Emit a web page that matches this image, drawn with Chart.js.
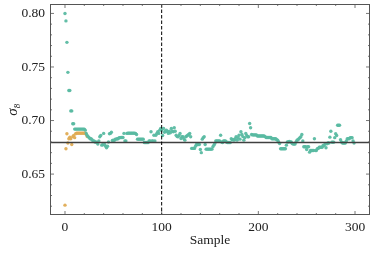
<!DOCTYPE html>
<html>
<head>
<meta charset="utf-8">
<script src="https://cdn.jsdelivr.net/npm/chart.js@4/dist/chart.umd.min.js"></script>
<style>
html,body{margin:0;padding:0;background:#fff;}
#wrap{width:374px;height:253px;}
</style>
</head>
<body>
<div id="wrap"><canvas id="c" width="374" height="253"></canvas></div>
<script>
// ---- data ----
const chainSigma8 = [
0.800,0.793,0.773,0.745,0.728,0.728,0.709,0.709,0.697,0.697,
0.692,0.692,0.692,0.692,0.692,0.692,0.692,0.692,0.692,0.692,
0.692,0.691,0.688,0.686,0.685,0.684,0.683,0.683,0.682,0.681,
0.681,0.680,0.680,0.6795,0.678,0.681,0.6848,0.686,0.677,0.6774,
0.688,0.6776,0.676,0.6746,0.676,0.680,0.6876,0.688,0.689,0.6814,
0.6817,0.6814,0.6826,0.6826,0.683,0.683,0.684,0.684,0.6842,0.6842,
0.6842,0.688,0.681,0.681,0.688,0.6882,0.6882,0.6882,0.6882,0.6882,
0.6882,0.6882,0.6882,0.688,0.687,0.6826,0.6826,0.6826,0.6826,0.6826,
0.6826,0.6826,0.6795,0.6795,0.6795,0.6795,0.6795,0.681,0.681,0.6895,
0.681,0.681,0.6863,0.681,0.6863,0.688,0.6895,0.688,0.691,0.6925,
0.691,0.686,0.6925,0.689,0.690,0.691,0.6895,0.688,0.690,0.6885,
0.6925,0.690,0.6895,0.6932,0.690,0.6863,0.685,0.6848,0.686,0.688,
0.6832,0.6848,0.6848,0.683,0.6817,0.6848,0.6855,0.6863,0.687,0.688,
0.6848,0.674,0.674,0.674,0.674,0.676,0.6776,0.6776,0.6776,0.6776,
0.673,0.670,0.6826,0.684,0.6848,0.6776,0.6733,0.6733,0.6733,0.6733,
0.6733,0.6733,0.6733,0.6755,0.677,0.6786,0.681,0.681,0.681,0.681,
0.681,0.6863,0.680,0.6795,0.681,0.681,0.681,0.680,0.6795,0.6795,
0.6795,0.6795,0.683,0.682,0.682,0.6817,0.683,0.6848,0.6817,0.684,
0.6863,0.6826,0.6895,0.687,0.685,0.6817,0.684,0.688,0.686,0.6848,
0.6848,0.6972,0.6932,0.687,0.6866,0.6866,0.6866,0.6866,0.6866,0.6856,
0.6856,0.6856,0.6856,0.6856,0.6856,0.6856,0.6856,0.685,0.6842,0.6842,
0.6842,0.6842,0.6842,0.6842,0.683,0.683,0.683,0.683,0.683,0.682,
0.6817,0.680,0.6786,0.6736,0.6736,0.6736,0.6736,0.6736,0.6736,0.677,
0.680,0.680,0.6805,0.680,0.680,0.6786,0.678,0.678,0.678,0.680,
0.6817,0.682,0.683,0.684,0.6848,0.687,0.681,0.6755,0.6755,0.6755,
0.673,0.6755,0.6755,0.6705,0.672,0.672,0.672,0.672,0.683,0.672,
0.672,0.6737,0.674,0.675,0.675,0.675,0.675,0.6767,0.6767,0.678,
0.6746,0.6783,0.679,0.679,0.6845,0.690,0.6798,0.6798,0.6798,0.684,
0.6876,0.686,0.6956,0.6956,0.6956,0.682,0.680,0.679,0.679,0.679,
0.679,0.681,0.683,0.683,0.683,0.684,0.684,0.684,0.681,0.679
];
const initialSigma8 = [
0.621,0.6736,0.6876,0.679,0.683,0.6845,0.683,0.6776,0.685,0.686,
0.684,0.6876,0.6882,0.6882,0.6882,0.6882,0.6882,0.6882,0.6882,0.6882,
0.6882,0.6882,0.687,0.685
];
const referenceSigma8 = 0.6795;
const splitSample = 100;
const xTickValues = [0, 100, 200, 300];
const yTickValues = [0.65, 0.70, 0.75, 0.80];
const xTickLabels = ['0', '100', '200', '300'];
const yTickLabels = ['0.65', '0.70', '0.75', '0.80'];
const xLabel = 'Sample';
const yLabel = 'σ₈';

const chainPoints = chainSigma8.map((v, i) => ({x: i, y: v}));
const initialPoints = initialSigma8.map((v, i) => ({x: i, y: v}));

const FONT = "'Liberation Serif', 'DejaVu Serif', serif";

const framePlugin = {
  id: 'frame',
  afterDatasetsDraw(chart) {
    const ctx = chart.ctx, a = chart.chartArea;
    const xs = chart.scales.x, ys = chart.scales.y;
    ctx.save();
    const yr = ys.getPixelForValue(referenceSigma8);
    ctx.strokeStyle = '#404040';
    ctx.lineWidth = 1.4;
    ctx.beginPath(); ctx.moveTo(a.left, yr); ctx.lineTo(a.right, yr); ctx.stroke();
    const xv = xs.getPixelForValue(splitSample);
    ctx.strokeStyle = '#000';
    ctx.lineWidth = 1;
    ctx.setLineDash([3.5, 2]);
    ctx.beginPath(); ctx.moveTo(xv, a.top); ctx.lineTo(xv, a.bottom); ctx.stroke();
    ctx.setLineDash([]);
    ctx.strokeStyle = '#555';
    ctx.lineWidth = 1;
    ctx.strokeRect(a.left + 0.5, a.top + 0.5, a.right - a.left - 1, a.bottom - a.top - 1);
    ctx.lineWidth = 0.8;
    ctx.strokeStyle = '#555';
    const tick = (x1, y1, x2, y2) => { ctx.beginPath(); ctx.moveTo(x1, y1); ctx.lineTo(x2, y2); ctx.stroke(); };
    for (let v = -20; v <= 320; v += 20) {
      if (v < xs.min || v > xs.max) continue;
      const px = xs.getPixelForValue(v);
      const len = (v % 100 === 0) ? 4 : 2;
      tick(px, a.bottom, px, a.bottom - len);
      tick(px, a.top, px, a.top + len);
    }
    for (let k = 60; k <= 81; k++) {
      const v = k / 100;
      if (v < ys.min || v > ys.max) continue;
      const py = ys.getPixelForValue(v);
      const len = (k % 5 === 0) ? 4 : 2;
      tick(a.left, py, a.left + len, py);
      tick(a.right, py, a.right - len, py);
    }
    ctx.restore();
  }
};

new Chart(document.getElementById('c'), {
  type: 'scatter',
  data: {
    datasets: [
      {
        label: 'chain',
        data: chainPoints,
        backgroundColor: 'rgba(90,186,162,0.95)',
        borderWidth: 0,
        pointRadius: 1.7
      },
      {
        label: 'initial',
        data: initialPoints,
        backgroundColor: 'rgba(224,172,84,0.95)',
        borderWidth: 0,
        pointRadius: 1.7
      }
    ]
  },
  options: {
    responsive: false,
    animation: false,
    devicePixelRatio: 1,
    layout: {padding: {top: 3, right: 3, left: 0, bottom: 0}},
    plugins: {legend: {display: false}, tooltip: {enabled: false}},
    scales: {
      x: {
        type: 'linear',
        min: -15.5,
        max: 315.5,
        grid: {display: false, drawTicks: false},
        border: {display: false},
        afterBuildTicks(s) { s.ticks = xTickValues.map(v => ({value: v})); },
        afterFit(s) { s.height = 38; s.paddingLeft = 0; s.paddingRight = 0; },
        ticks: {
          callback: (v) => { const i = xTickValues.indexOf(v); return i >= 0 ? xTickLabels[i] : ''; },
          color: '#222',
          font: {family: FONT, size: 13.5},
          padding: 4,
          maxRotation: 0,
          autoSkip: false
        },
        title: {
          display: true,
          text: xLabel,
          color: '#222',
          font: {family: FONT, size: 13.5},
          padding: {top: 0, bottom: 4}
        }
      },
      y: {
        type: 'linear',
        min: 0.6118,
        max: 0.8088,
        grid: {display: false, drawTicks: false},
        border: {display: false},
        afterBuildTicks(s) { s.ticks = yTickValues.map(v => ({value: v})); },
        afterFit(s) { s.width = 50; s.paddingTop = 0; s.paddingBottom = 0; },
        ticks: {
          callback: (v) => { const i = yTickValues.findIndex(t => Math.abs(t - v) < 1e-9); return i >= 0 ? yTickLabels[i] : ''; },
          color: '#222',
          font: {family: FONT, size: 13.5},
          padding: 5,
          autoSkip: false
        },
        title: {
          display: true,
          text: yLabel,
          color: '#222',
          font: {family: FONT, size: 15, style: 'italic'},
          padding: {top: 4, bottom: 0}
        }
      }
    }
  },
  plugins: [framePlugin]
});
</script>
</body>
</html>
